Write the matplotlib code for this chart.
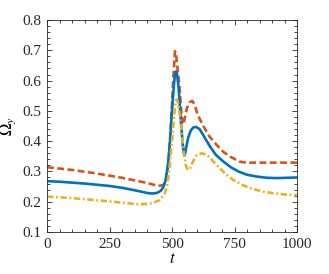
import matplotlib
matplotlib.use("Agg")
import matplotlib.pyplot as plt
from matplotlib.ticker import MultipleLocator

plt.rcParams['font.family'] = ['Liberation Serif', 'DejaVu Serif']
plt.rcParams['mathtext.fontset'] = 'stix'

t_blue = [0, 50, 100, 150, 200, 250, 300, 350, 400, 420, 440, 455, 465, 475, 485, 492, 500, 507, 512, 516, 520, 526, 532, 538, 544, 549, 553, 558, 565, 575, 585, 596, 610, 625, 650, 675, 705, 735, 765, 800, 839, 880, 920, 960, 1000]
v_blue = [0.268, 0.266, 0.263, 0.260, 0.256, 0.252, 0.246, 0.238, 0.229, 0.227, 0.229, 0.236, 0.248, 0.272, 0.33, 0.40, 0.50, 0.58, 0.62, 0.630, 0.622, 0.58, 0.51, 0.44, 0.38, 0.352, 0.36, 0.385, 0.412, 0.435, 0.445, 0.447, 0.44, 0.42, 0.385, 0.355, 0.333, 0.314, 0.300, 0.289, 0.283, 0.279, 0.278, 0.279, 0.280]

t_orange = [0, 100, 200, 300, 400, 445, 465, 475, 485, 492, 500, 506, 512, 516, 522, 530, 536, 541, 546, 552, 560, 570, 581, 590, 599, 610, 625, 650, 679, 705, 732, 772, 800, 850, 900, 950, 1000]
v_orange = [0.314, 0.305, 0.293, 0.279, 0.262, 0.252, 0.255, 0.27, 0.32, 0.40, 0.52, 0.62, 0.697, 0.69, 0.64, 0.58, 0.51, 0.46, 0.455, 0.48, 0.51, 0.528, 0.533, 0.522, 0.497, 0.475, 0.450, 0.415, 0.387, 0.365, 0.349, 0.332, 0.329, 0.329, 0.329, 0.329, 0.329]

t_yellow = [0, 100, 200, 300, 372, 420, 450, 470, 480, 490, 500, 508, 514, 519, 525, 532, 540, 548, 555, 563, 572, 585, 600, 619, 640, 679, 710, 745, 780, 812, 860, 905, 950, 1000]
v_yellow = [0.217, 0.212, 0.205, 0.197, 0.191, 0.195, 0.205, 0.225, 0.25, 0.31, 0.40, 0.48, 0.53, 0.538, 0.525, 0.48, 0.42, 0.36, 0.32, 0.305, 0.31, 0.335, 0.354, 0.360, 0.355, 0.321, 0.295, 0.272, 0.256, 0.245, 0.234, 0.228, 0.224, 0.222]

fig = plt.figure(figsize=(3.29, 2.74), dpi=100)
ax = fig.add_axes([47/329, 1 - 232/274, 250/329, 212/274])

lw = 1.9
ax.plot(t_orange, v_orange, color='#D95319', lw=lw, dashes=(2.6, 1.3))
ax.plot(t_blue, v_blue, color='#0072BD', lw=lw)
ax.plot(t_yellow, v_yellow, color='#EDB120', lw=lw, dashes=(2.4, 1.0, 0.7, 1.0))

ax.set_xlim(0, 1000)
ax.set_ylim(0.1, 0.8)
ax.xaxis.set_major_locator(MultipleLocator(250))
ax.xaxis.set_minor_locator(MultipleLocator(50))
ax.yaxis.set_major_locator(MultipleLocator(0.1))
ax.yaxis.set_minor_locator(MultipleLocator(0.02))
ax.tick_params(which='both', direction='in', top=True, right=True, labelsize=11, width=0.6, colors='#262626', pad=4)
ax.tick_params(which='major', length=3.5)
ax.tick_params(which='minor', length=2)
ax.set_yticks([0.1, 0.2, 0.3, 0.4, 0.5, 0.6, 0.7, 0.8])
ax.set_yticklabels(['0.1', '0.2', '0.3', '0.4', '0.5', '0.6', '0.7', '0.8'])
ax.set_xticks([0, 250, 500, 750, 1000])
ax.set_xticklabels(['0', '250', '500', '750', '1000'])
for s in ax.spines.values():
    s.set_linewidth(0.6)
    s.set_color('#262626')

ax.set_xlabel(r'$t$', fontsize=12, labelpad=0)
ax.set_ylabel(r'$\Omega_y$', fontsize=12, labelpad=3)

fig.savefig('out.png', dpi=100)
